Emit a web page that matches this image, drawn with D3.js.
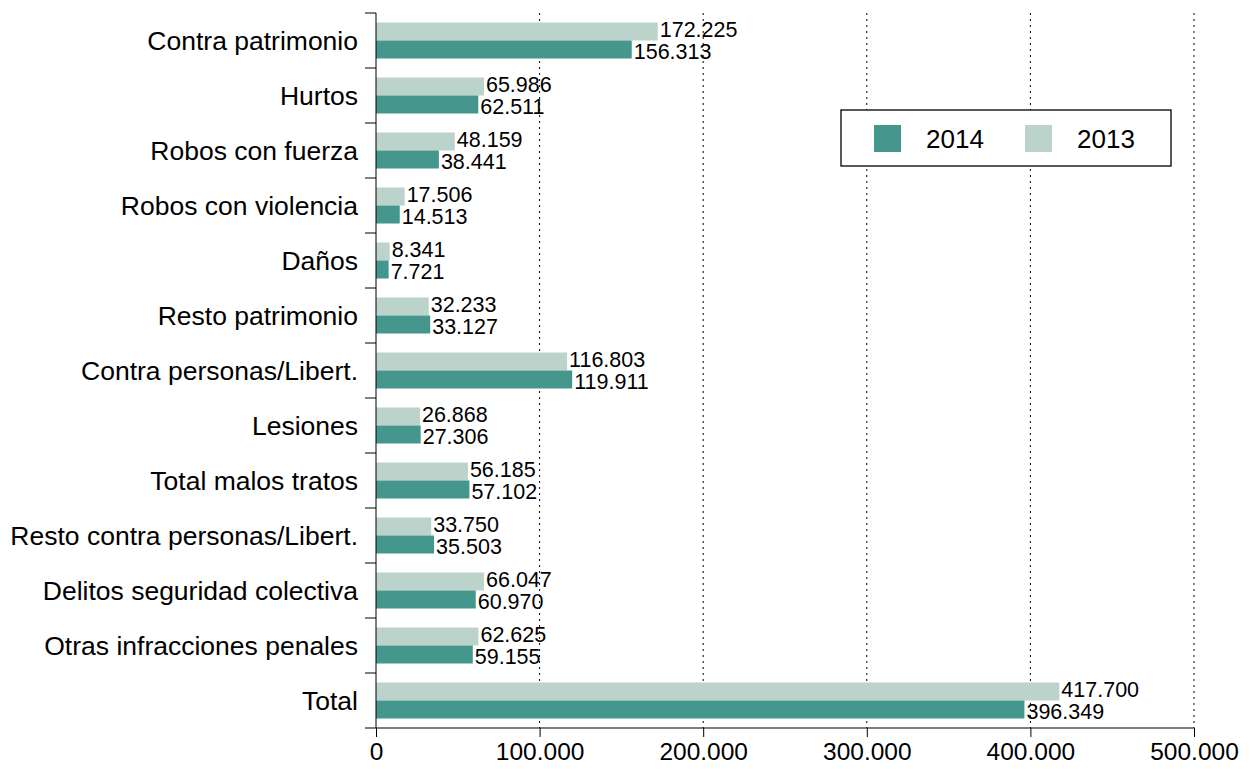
<!DOCTYPE html>
<html><head><meta charset="utf-8">
<script src="https://cdn.jsdelivr.net/npm/d3@7"></script>
<style>body{margin:0;background:#fff}svg{display:block;font-family:"Liberation Sans",Arial,Helvetica,sans-serif}</style>
</head><body><svg id="c" width="1250" height="769"></svg>
<script>
const categories = ["Contra patrimonio","Hurtos","Robos con fuerza","Robos con violencia","Daños","Resto patrimonio","Contra personas/Libert.","Lesiones","Total malos tratos","Resto contra personas/Libert.","Delitos seguridad colectiva","Otras infracciones penales","Total"];
const values2013 = [172225,65986,48159,17506,8341,32233,116803,26868,56185,33750,66047,62625,417700];
const values2014 = [156313,62511,38441,14513,7721,33127,119911,27306,57102,35503,60970,59155,396349];
const seriesNames = ["2014","2013"];
const xTicks = [0,100000,200000,300000,400000,500000];

(function(){
const colors = {"2014":"#45968d","2013":"#bbd3cb"};
const fmt = v => d3.format(",")(v).replace(/,/g,".");
const svg = d3.select("#c");
const pL = 376, pR = 1194, pT = 13, pB = 728;
const x = d3.scaleLinear().domain([0,500000]).range([pL,pR]);
const y = d3.scaleBand().domain(categories).range([pT,pB]);
const inner = d3.scaleBand().domain(["2013","2014"]).range([0,36]);

// grid
svg.append("g").selectAll("line").data(xTicks.slice(1)).join("line")
  .attr("x1",d=>x(d)).attr("x2",d=>x(d)).attr("y1",pT).attr("y2",pB)
  .attr("stroke","#000").attr("stroke-width",1).attr("stroke-dasharray","2,4");

const rows = categories.map((c,i)=>({c, v13:values2013[i], v14:values2014[i]}));
const g = svg.append("g");
rows.forEach(r=>{
  const y0 = y(r.c) + (y.bandwidth()-36)/2;
  [["2013",r.v13],["2014",r.v14]].forEach(([s,v])=>{
    const yy = y0 + inner(s);
    g.append("rect").attr("x",x(0)).attr("y",yy).attr("width",x(v)-x(0)).attr("height",inner.bandwidth()).attr("fill",colors[s]);
    g.append("text").attr("x",x(v)+2).attr("y",yy+inner.bandwidth()/2 + (s==="2013"?-2:2)).attr("dy","0.36em")
      .attr("font-size",21.5).attr("fill","#000").text(fmt(v));
  });
});

// y axis
const ya = svg.append("g");
ya.append("line").attr("x1",pL).attr("x2",pL).attr("y1",pT).attr("y2",pB).attr("stroke","#000");
const bounds = d3.range(categories.length+1).map(i=> i<categories.length ? y(categories[i]) : pB);
ya.selectAll(".t").data(bounds).join("line").attr("x1",pL-11).attr("x2",pL).attr("y1",d=>d).attr("y2",d=>d).attr("stroke","#000");
ya.selectAll("text").data(categories).join("text")
  .attr("x",358).attr("y",d=>y(d)+y.bandwidth()/2).attr("dy","0.36em").attr("text-anchor","end")
  .attr("font-size",26.5).text(d=>d);

// x axis
const xa = svg.append("g").attr("transform",`translate(0,${pB})`)
  .call(d3.axisBottom(x).tickValues(xTicks).tickSize(9).tickPadding(6).tickFormat(fmt));
xa.select(".domain").attr("stroke","#000").attr("d",`M${pL},0H${pR}`);
xa.selectAll("text").attr("font-size",24.5).attr("font-family","Liberation Sans, Arial, sans-serif").attr("fill","#000");
xa.selectAll(".tick line").attr("stroke","#000");

// legend
const lg = svg.append("g");
lg.append("rect").attr("x",841).attr("y",110).attr("width",330).attr("height",56).attr("fill","#fff").attr("stroke","#000").attr("stroke-width",1.3);
const lx = [874,1025];
seriesNames.forEach((s,i)=>{
  lg.append("rect").attr("x",lx[i]).attr("y",125).attr("width",27).attr("height",27).attr("fill",colors[s]);
  lg.append("text").attr("x",lx[i]+52).attr("y",138.5).attr("dy","0.36em").attr("font-size",26).text(s);
});
})();
</script></body></html>
